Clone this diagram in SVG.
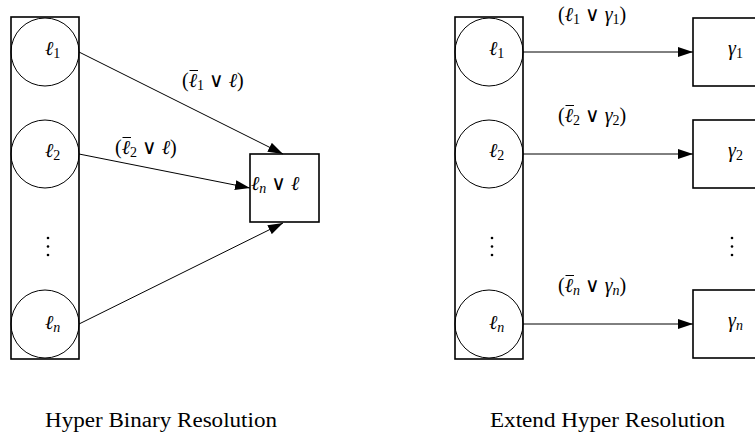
<svg xmlns="http://www.w3.org/2000/svg" width="755" height="438" viewBox="0 0 755 438">
<style>
.col{fill:none;stroke:#000;stroke-width:1.6}
.lit{fill:none;stroke:#000;stroke-width:1}
.box{fill:#fff;stroke:#000;stroke-width:1.6}
.m{font-family:"Liberation Serif","DejaVu Serif",serif;font-size:20px;fill:#000}
.l{font-family:"DejaVu Serif",serif;font-style:italic}
.g{font-style:italic}
.s{font-size:14px}
.si{font-size:14px;font-style:italic}
.cap{font-family:"Liberation Serif","DejaVu Serif",serif;font-size:20px;fill:#000}
.e{stroke:#000;stroke-width:1;fill:none}
.bar{stroke:#000;stroke-width:1}
</style>
<defs>
<marker id="ah" markerWidth="15" markerHeight="10" refX="15" refY="5" orient="auto" markerUnits="userSpaceOnUse">
<path d="M0,0 L15,5 L0,10 Z" fill="#000"/>
</marker>
</defs>

<!-- Left diagram -->
<g id="left-column">
<rect class="col" x="11" y="17" width="68" height="342"/>
</g>
<g id="l1"><circle class="lit" cx="45" cy="52" r="34"/><text class="m" x="45" y="55"><tspan class="l">ℓ</tspan><tspan class="s" dy="3">1</tspan></text></g>
<g id="l2"><circle class="lit" cx="45" cy="154" r="34"/><text class="m" x="45" y="157"><tspan class="l">ℓ</tspan><tspan class="s" dy="3">2</tspan></text></g>
<g id="ldots"><circle cx="48" cy="238" r="1.3"/><circle cx="48" cy="246.5" r="1.3"/><circle cx="48" cy="255" r="1.3"/></g>
<g id="ln"><circle class="lit" cx="45" cy="324" r="34"/><text class="m" x="45" y="329"><tspan class="l">ℓ</tspan><tspan class="si" dy="3">n</tspan></text></g>
<g id="res"><rect class="box" x="250" y="154" width="69" height="68"/><text class="m" x="251" y="190"><tspan class="l">ℓ</tspan><tspan class="si" dy="3">n</tspan><tspan dy="-3"> ∨ </tspan><tspan class="l">ℓ</tspan></text></g>

<!-- Right diagram -->
<g id="right-column">
<rect class="col" x="455" y="17" width="68" height="342"/>
</g>
<g id="r1"><circle class="lit" cx="489" cy="52" r="34"/><text class="m" x="489" y="55"><tspan class="l">ℓ</tspan><tspan class="s" dy="3">1</tspan></text></g>
<g id="r2"><circle class="lit" cx="489" cy="154" r="34"/><text class="m" x="489" y="157"><tspan class="l">ℓ</tspan><tspan class="s" dy="3">2</tspan></text></g>
<g id="rdots"><circle cx="492" cy="238" r="1.3"/><circle cx="492" cy="246.5" r="1.3"/><circle cx="492" cy="255" r="1.3"/></g>
<g id="rn"><circle class="lit" cx="489" cy="324" r="34"/><text class="m" x="489" y="329"><tspan class="l">ℓ</tspan><tspan class="si" dy="3">n</tspan></text></g>
<g id="g1"><rect class="box" x="693" y="18" width="68" height="68"/><text class="m" x="728" y="55"><tspan class="g">γ</tspan><tspan class="s" dy="3">1</tspan></text></g>
<g id="g2"><rect class="box" x="693" y="120" width="68" height="68"/><text class="m" x="728" y="157"><tspan class="g">γ</tspan><tspan class="s" dy="3">2</tspan></text></g>
<g id="gdots"><circle cx="732" cy="238" r="1.3"/><circle cx="732" cy="246.5" r="1.3"/><circle cx="732" cy="255" r="1.3"/></g>
<g id="gn"><rect class="box" x="693" y="290" width="68" height="68"/><text class="m" x="728" y="327"><tspan class="g">γ</tspan><tspan class="si" dy="3">n</tspan></text></g>

<g id="connectors">
<line class="e" x1="79" y1="52" x2="283" y2="154" marker-end="url(#ah)"/>
<line class="e" x1="79" y1="154" x2="250" y2="188" marker-end="url(#ah)"/>
<line class="e" x1="79" y1="324" x2="283" y2="223" marker-end="url(#ah)"/>
<line class="e" x1="523" y1="52" x2="693" y2="52" marker-end="url(#ah)"/>
<line class="e" x1="523" y1="154" x2="693" y2="154" marker-end="url(#ah)"/>
<line class="e" x1="523" y1="324" x2="693" y2="324" marker-end="url(#ah)"/>
</g>

<g id="edge-labels">
<text class="m" x="182" y="87">(<tspan class="l">ℓ</tspan><tspan class="s" dy="3">1</tspan><tspan dy="-3"> ∨ </tspan><tspan class="l">ℓ</tspan>)</text>
<line class="bar" x1="189.5" y1="70.5" x2="198" y2="70.5"/>
<text class="m" x="115" y="154">(<tspan class="l">ℓ</tspan><tspan class="s" dy="3">2</tspan><tspan dy="-3"> ∨ </tspan><tspan class="l">ℓ</tspan>)</text>
<line class="bar" x1="122.5" y1="137.5" x2="131" y2="137.5"/>
<text class="m" x="558" y="21">(<tspan class="l">ℓ</tspan><tspan class="s" dy="3">1</tspan><tspan dy="-3"> ∨ </tspan><tspan class="g">γ</tspan><tspan class="s" dy="3">1</tspan><tspan dy="-3">)</tspan></text>
<text class="m" x="558" y="122">(<tspan class="l">ℓ</tspan><tspan class="s" dy="3">2</tspan><tspan dy="-3"> ∨ </tspan><tspan class="g">γ</tspan><tspan class="s" dy="3">2</tspan><tspan dy="-3">)</tspan></text>
<line class="bar" x1="565.5" y1="105.5" x2="574" y2="105.5"/>
<text class="m" x="558" y="292">(<tspan class="l">ℓ</tspan><tspan class="si" dy="3">n</tspan><tspan dy="-3"> ∨ </tspan><tspan class="g">γ</tspan><tspan class="si" dy="3">n</tspan><tspan dy="-3">)</tspan></text>
<line class="bar" x1="565.5" y1="275.5" x2="574" y2="275.5"/>
</g>

<g id="captions">
<text class="cap" x="45" y="427" textLength="232" lengthAdjust="spacingAndGlyphs">Hyper Binary Resolution</text>
<text class="cap" x="490" y="427" textLength="235" lengthAdjust="spacingAndGlyphs">Extend Hyper Resolution</text>
</g>
</svg>
